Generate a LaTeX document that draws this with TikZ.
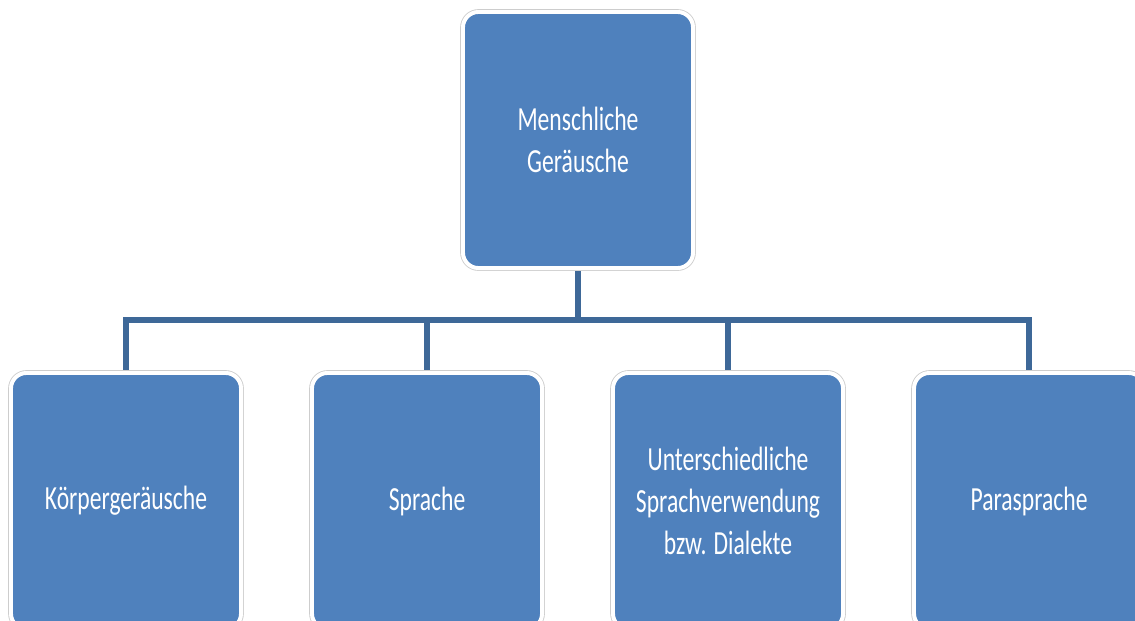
\documentclass[tikz,border=0pt]{standalone}
\usepackage{fontspec}
\usepackage{tikz}
\usetikzlibrary{positioning,backgrounds}
\newfontfamily\boxfont{Carlito}[FakeStretch=0.7]
\definecolor{boxblue}{RGB}{79,129,189}
\definecolor{linkblue}{RGB}{62,104,152}
\definecolor{rimgrey}{RGB}{205,205,205}
\tikzset{
  topic/.style={fill=boxblue, draw=white, line width=2.8pt, rounded corners=11pt,
                minimum width=5.75cm, minimum height=6.4cm, align=center,
                text=white, font=\boxfont\fontsize{24}{29.6}\selectfont,
                preaction={draw=rimgrey, line width=4pt}},
  link/.style={draw=linkblue, line width=4.2pt},
}
\begin{document}
\begin{tikzpicture}[x=0.025cm, y=-0.025cm, node distance=5mm and 1.675cm]
\path[use as bounding box, clip] (0,0) rectangle (1135,620);
\node[topic] (mensch) at (578,140) {Menschliche\\Geräusche};
\node[topic] (koerper) at (126,501) {Körpergeräusche};
\node[topic, right=of koerper] (sprache) {Sprache};
\node[topic, right=of sprache] (dialekt) {Unterschiedliche\\Sprachverwendung\\bzw. Dialekte};
\node[topic, right=of dialekt] (para) {Parasprache};
\coordinate (hub) at (578,320);

\begin{scope}[on background layer]
\draw[link] (mensch.south) -- (hub);
\foreach \kid in {koerper,sprache,dialekt,para}
  \draw[link] (hub) -| (\kid.north);
\end{scope}
\end{tikzpicture}
\end{document}
